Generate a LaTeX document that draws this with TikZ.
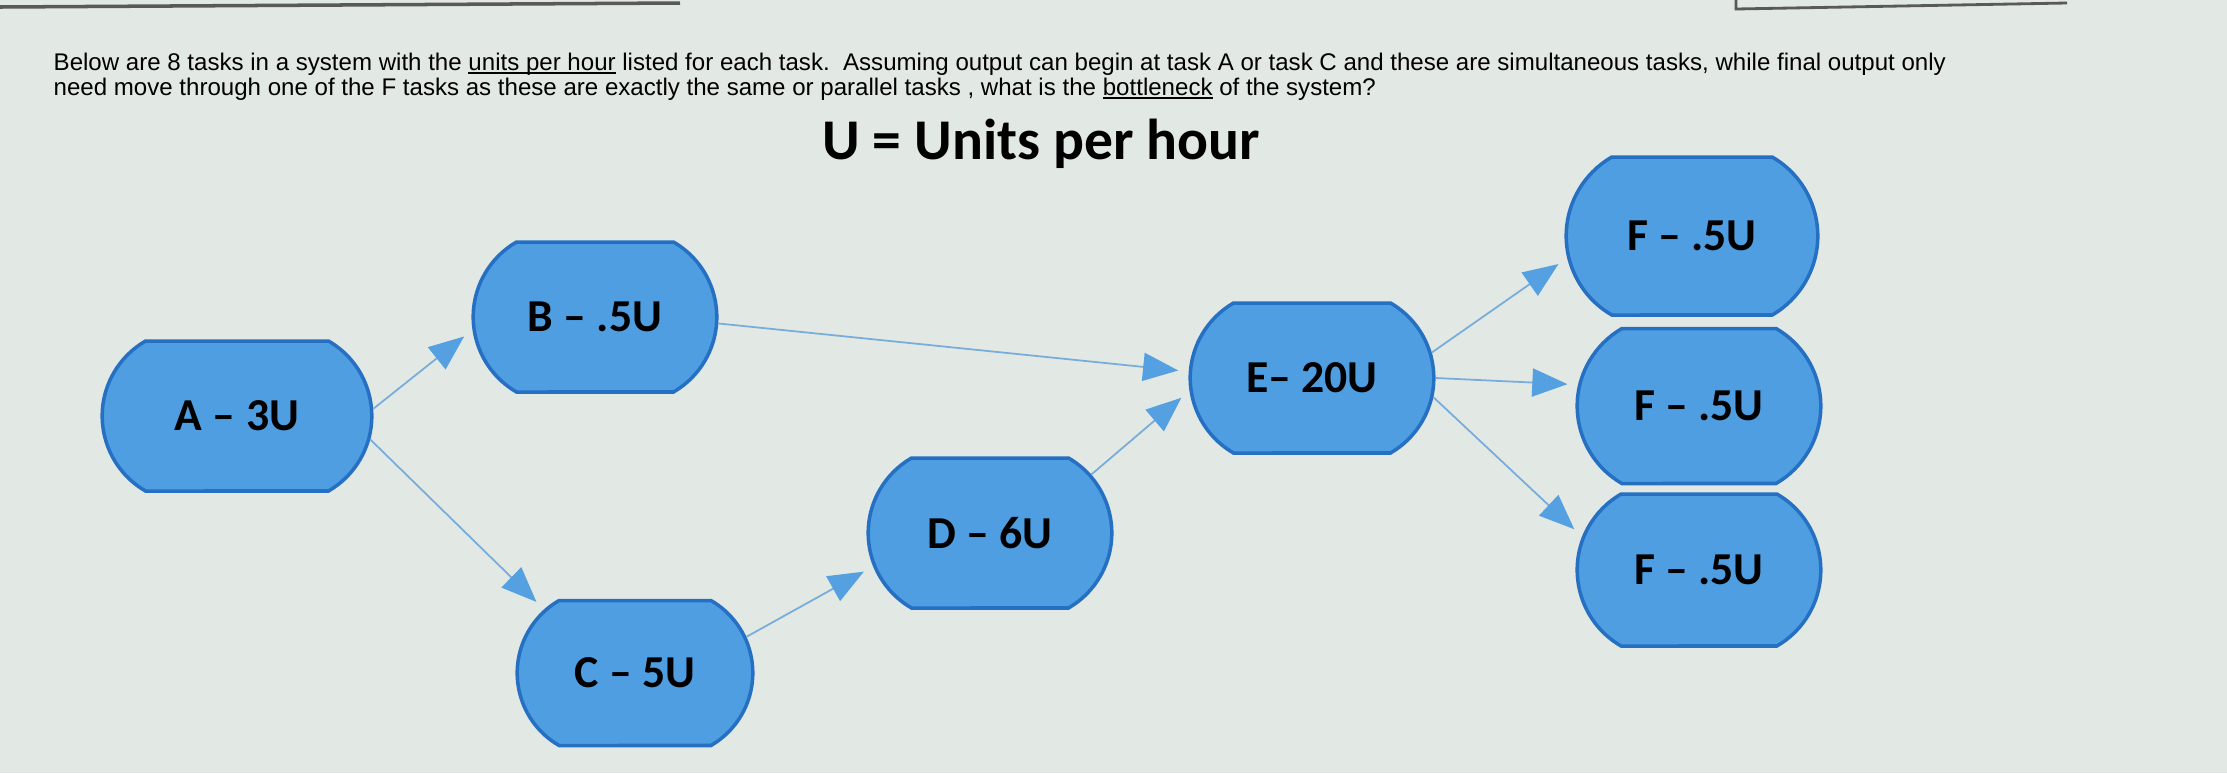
\documentclass[tikz,border=0pt]{standalone}
\usepackage{fontspec}
\setmainfont{Liberation Sans}
\newfontfamily\calib{Carlito}
\usetikzlibrary{shapes.misc}
\usetikzlibrary{arrows.meta}
\usetikzlibrary{calc}
\definecolor{paper}{RGB}{226,232,228}
\definecolor{taskfill}{RGB}{78,158,225}
\definecolor{taskline}{RGB}{38,112,196}
\definecolor{flowblue}{RGB}{84,160,224}
\definecolor{flowline}{RGB}{120,172,218}
\newcommand{\undl}[1]{\setbox0\hbox{#1}\rlap{\rule[-1.1pt]{\wd0}{0.45pt}}\box0\relax}
\tikzstyle{task} = [rounded rectangle, rounded rectangle arc length=120, minimum width=2.67cm, minimum height=1.5cm, draw=taskline, line width=1pt, fill=taskfill, text centered, font=\calib\bfseries\fontsize{13}{15}\selectfont]
\tikzstyle{flow} = [flowline, line width=0.5pt, -{Triangle[length=10pt,width=8pt,color=flowblue]}, shorten >=3pt]

\begin{document}
\begin{tikzpicture}
\fill[paper] (0,0) rectangle (22.27,-7.73);
\useasboundingbox (0,0) rectangle (22.27,-7.73);

\draw[gray!70!black, line width=1pt] (0,-0.07) -- (6.8,-0.03);
\draw[gray!70!black, line width=0.8pt] (17.36,0) -- (17.36,-0.09) -- (20.67,-0.03);

\coordinate (posA) at (2.37,-4.16);
\coordinate (posB) at (5.95,-3.17);
\coordinate (posC) at (6.35,-6.73);
\coordinate (posD) at (9.90,-5.33);
\coordinate (posE) at (13.12,-3.78);
\coordinate (posF1) at (16.92,-2.36);
\coordinate (posF2) at (16.99,-4.06);
\coordinate (posF3) at (16.99,-5.70);

\node[anchor=base west, inner sep=0, font=\fontsize{6.85}{8}\selectfont] (question) at (0.53,-0.70) {Below are 8 tasks in a system with the \undl{units per hour} listed for each task.\ \ Assuming output can begin at task A or task C and these are simultaneous tasks, while final output only};
\node[anchor=base west, inner sep=0, font=\fontsize{6.85}{8}\selectfont] (question2) at (0.53,-0.95) {need move through one of the F tasks as these are exactly the same or parallel tasks , what is the \undl{bottleneck} of the system?};
\node[anchor=base, inner sep=0, font=\calib\bfseries\fontsize{16.4}{18}\selectfont] (legend) at (10.41,-1.59) {U = Units per hour};

\node[task, minimum width=2.93cm] (A) at (posA) {A – 3U};
\node[task] (B) at (posB) {B – .5U};
\node[task, minimum width=2.59cm, minimum height=1.45cm] (C) at (posC) {C – 5U};
\node[task] (D) at (posD) {D – 6U};
\node[task] (E) at (posE) {E– 20U};
\node[task, minimum width=2.75cm, minimum height=1.58cm] (F1) at (posF1) {F – .5U};
\node[task, minimum height=1.55cm] (F2) at (posF2) {F – .5U};
\node[task, minimum height=1.52cm] (F3) at (posF3) {F – .5U};

\draw[flow] (A.3) -- (B.186);
\draw[flow] (A.-10) -- (C.145);
\draw[flow] (B.-3) -- (E.177);
\draw[flow] (C.18) -- (D.196);
\draw[flow] (D.30) -- (E.186);
\draw[flow] (E.12) -- (F1.190);
\draw[flow] (E.0) -- (F2.170);
\draw[flow] (E.-9) -- (F3.164);

\end{tikzpicture}
\end{document}
